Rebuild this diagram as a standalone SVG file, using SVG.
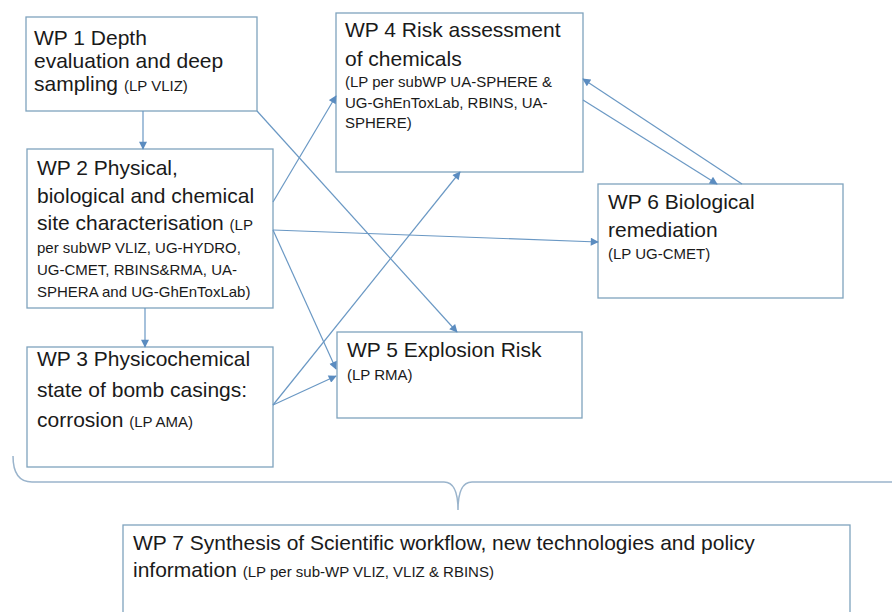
<svg xmlns="http://www.w3.org/2000/svg" width="892" height="612" viewBox="0 0 892 612">
<defs>
<marker id="arr" viewBox="0 0 10 10" refX="9" refY="5" markerWidth="9" markerHeight="8" markerUnits="userSpaceOnUse" orient="auto">
<path d="M0,0 L10,5 L0,10 z" fill="#5b8cc0"/>
</marker>
</defs>
<style>
.box{fill:#ffffff;stroke:#7fa3bd;stroke-width:1.3}
.big{font-family:"Liberation Sans",Arial,sans-serif;font-size:21px;fill:#1a1a1a}
.sm{font-family:"Liberation Sans",Arial,sans-serif;font-size:15px;fill:#1a1a1a}
.con{stroke:#6a98c4;stroke-width:1.2;fill:none;marker-end:url(#arr)}
.brace{stroke:#9ab4cc;stroke-width:1.5;fill:none}
</style>
<rect width="892" height="612" fill="#ffffff"/>
<g id="wp1">
<rect class="box" x="26" y="17" width="231" height="94"/>
<text class="big" x="34" y="45">WP 1 Depth</text>
<text class="big" x="34" y="68">evaluation and deep</text>
<text class="big" x="34" y="91">sampling <tspan class="sm">(LP VLIZ)</tspan></text>
</g>
<g id="wp2">
<rect class="box" x="27" y="149" width="246" height="159"/>
<text class="big" x="37" y="175">WP 2 Physical,</text>
<text class="big" x="37" y="203">biological and chemical</text>
<text class="big" x="37" y="230">site characterisation <tspan class="sm">(LP</tspan></text>
<text class="sm" x="37" y="253">per subWP VLIZ, UG-HYDRO,</text>
<text class="sm" x="37" y="275">UG-CMET, RBINS&amp;RMA, UA-</text>
<text class="sm" x="37" y="297">SPHERA and UG-GhEnToxLab)</text>
</g>
<g id="wp3">
<rect class="box" x="27" y="347" width="246" height="120"/>
<text class="big" x="37" y="366">WP 3 Physicochemical</text>
<text class="big" x="37" y="397">state of bomb casings:</text>
<text class="big" x="37" y="427">corrosion <tspan class="sm">(LP AMA)</tspan></text>
</g>
<g id="wp4">
<rect class="box" x="336" y="13" width="247" height="159"/>
<text class="big" x="345" y="37">WP 4 Risk assessment</text>
<text class="big" x="345" y="66">of chemicals</text>
<text class="sm" x="345" y="87">(LP per subWP UA-SPHERE &amp;</text>
<text class="sm" x="345" y="108">UG-GhEnToxLab, RBINS, UA-</text>
<text class="sm" x="345" y="128">SPHERE)</text>
</g>
<g id="wp5">
<rect class="box" x="337" y="332" width="245" height="86"/>
<text class="big" x="347" y="357">WP 5 Explosion Risk</text>
<text class="sm" x="347" y="380">(LP RMA)</text>
</g>
<g id="wp6">
<rect class="box" x="598" y="184" width="245" height="114"/>
<text class="big" x="608" y="209">WP 6 Biological</text>
<text class="big" x="608" y="237">remediation</text>
<text class="sm" x="608" y="259">(LP UG-CMET)</text>
</g>
<g id="wp7">
<rect class="box" x="123" y="525" width="727" height="100"/>
<text class="big" x="133" y="550">WP 7 Synthesis of Scientific workflow, new technologies and policy</text>
<text class="big" x="133" y="577">information <tspan class="sm">(LP per sub-WP VLIZ, VLIZ &amp; RBINS)</tspan></text>
</g>
<g id="connectors">
<line class="con" x1="143" y1="111" x2="143" y2="149"/>
<line class="con" x1="145" y1="308" x2="145" y2="347"/>
<line class="con" x1="257" y1="111" x2="457" y2="332"/>
<line class="con" x1="273" y1="202" x2="336" y2="96"/>
<line class="con" x1="273" y1="230" x2="598" y2="242"/>
<line class="con" x1="273" y1="230" x2="336" y2="369"/>
<line class="con" x1="273" y1="405" x2="460" y2="172"/>
<line class="con" x1="273" y1="405" x2="336" y2="376"/>
<line class="con" x1="742" y1="184" x2="583" y2="79"/>
<line class="con" x1="583" y1="100" x2="717" y2="184"/>
<path class="brace" d="M13,456 Q13,482 32,482 L444,482 Q458,482 458,510 Q458,482 472,482 L892,482"/>
</g>
</svg>
